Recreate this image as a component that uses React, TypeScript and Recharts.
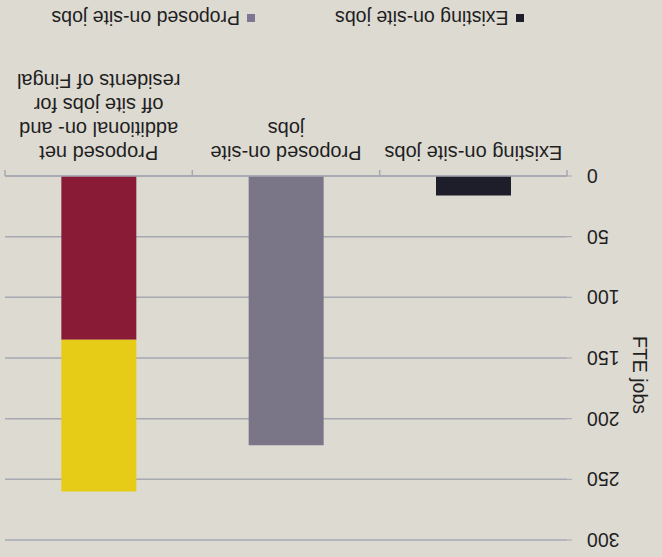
import React from "react";
import { Bar, BarChart, CartesianGrid, XAxis, YAxis, Legend } from "recharts";

// categories and their wrapped tick lines
const categories = [
  "Existing on-site jobs",
  "Proposed on-site jobs",
  "Proposed net additional on- and off site jobs for residents of Fingal",
];
const categoryLines = [
  ["Existing on-site jobs"],
  ["Proposed on-site", "jobs"],
  ["Proposed net", "additional on- and", "off site jobs for", "residents of Fingal"],
];

// series values (FTE jobs)
const existingJobs = [16, null, null];
const proposedJobs = [null, 222, null];
const netOnSite = [null, null, 135];
const netOffSite = [null, null, 125];

const yTicks = [0, 50, 100, 150, 200, 250, 300];

const data = categories.map((name, i) => ({
  name,
  existing: existingJobs[i],
  proposed: proposedJobs[i],
  netOn: netOnSite[i],
  netOff: netOffSite[i],
}));

const W = 662;
const H = 557;
const margin = { top: 17, right: 5, left: 0, bottom: 0 };
const yAxisWidth = 95;
const plotWidth = W - margin.left - margin.right - yAxisWidth;
const band = plotWidth / categories.length;

const FONT = "'Liberation Sans', Arial, sans-serif";
const FS = 19.5;
const GRID = "#a6a8b2";
const TEXT = "#1f1f22";

function CategoryTick(props: any) {
  const { x, y, payload, index } = props;
  const lines = categoryLines[index] || [payload.value];
  return (
    <g>
      <line x1={x - band / 2} x2={x - band / 2} y1={y - 8} y2={y - 2} stroke={GRID} strokeWidth={1.5} />
      {index === categories.length - 1 && (
        <line x1={x + band / 2} x2={x + band / 2} y1={y - 8} y2={y - 2} stroke={GRID} strokeWidth={1.5} />
      )}
      <text x={x} y={y + 22.5} textAnchor="middle" fontSize={20} fontFamily={FONT} fill={TEXT}>
        {lines.map((l: string, k: number) => (
          <tspan key={k} x={x} dy={k === 0 ? 0 : 24}>
            {l}
          </tspan>
        ))}
      </text>
    </g>
  );
}

function YTitle(props: any) {
  const { viewBox } = props;
  const cy = viewBox.y + viewBox.height / 2 - 17;
  return (
    <text
      x={22}
      y={cy}
      transform={`rotate(-90, 22, ${cy})`}
      textAnchor="middle"
      dominantBaseline="central"
      fontSize={FS}
      fontFamily={FONT}
      fill={TEXT}
    >
      FTE jobs
    </text>
  );
}

function LegendBox() {
  const items = [
    { label: "Existing on-site jobs", color: "#1e1d2a" },
    { label: "Proposed on-site jobs", color: "#7d7690" },
  ];
  return (
    <div
      style={{
        height: 36,
        display: "flex",
        justifyContent: "center",
        alignItems: "center",
        gap: 80,
        fontFamily: FONT,
        fontSize: FS,
        color: TEXT,
        paddingLeft: 92,
      }}
    >
      {items.map((it) => (
        <div key={it.label} style={{ display: "flex", alignItems: "center", gap: 7 }}>
          <span style={{ width: 8, height: 8, background: it.color, display: "inline-block" }} />
          <span>{it.label}</span>
        </div>
      ))}
    </div>
  );
}

export default function App() {
  return (
    <div
      style={{
        position: "absolute",
        left: 0,
        top: 0,
        width: W,
        height: H,
        background: "#dddad2",
        transform: "rotate(180deg)",
      }}
    >
      <BarChart width={W} height={H} data={data} margin={margin} barSize={75}>
        <CartesianGrid vertical={false} stroke={GRID} strokeWidth={1.5} />
        <XAxis
          dataKey="name"
          interval={0}
          height={140}
          tickLine={false}
          axisLine={{ stroke: GRID, strokeWidth: 1.5 }}
          tick={<CategoryTick />}
        />
        <YAxis
          width={yAxisWidth}
          domain={[0, 300]}
          ticks={yTicks}
          axisLine={false}
          tickSize={5}
          tickMargin={15}
          tickLine={{ stroke: GRID }}
          tick={{ fontSize: FS, fontFamily: FONT, fill: TEXT }}
          label={<YTitle />}
        />
        <Legend verticalAlign="bottom" content={() => <LegendBox />} />
        <Bar dataKey="existing" stackId="a" fill="#1e1d2a" isAnimationActive={false} />
        <Bar dataKey="proposed" stackId="a" fill="#7a7587" isAnimationActive={false} />
        <Bar dataKey="netOn" stackId="a" fill="#8a1b36" isAnimationActive={false} />
        <Bar dataKey="netOff" stackId="a" fill="#e6cb17" isAnimationActive={false} />
      </BarChart>
    </div>
  );
}
